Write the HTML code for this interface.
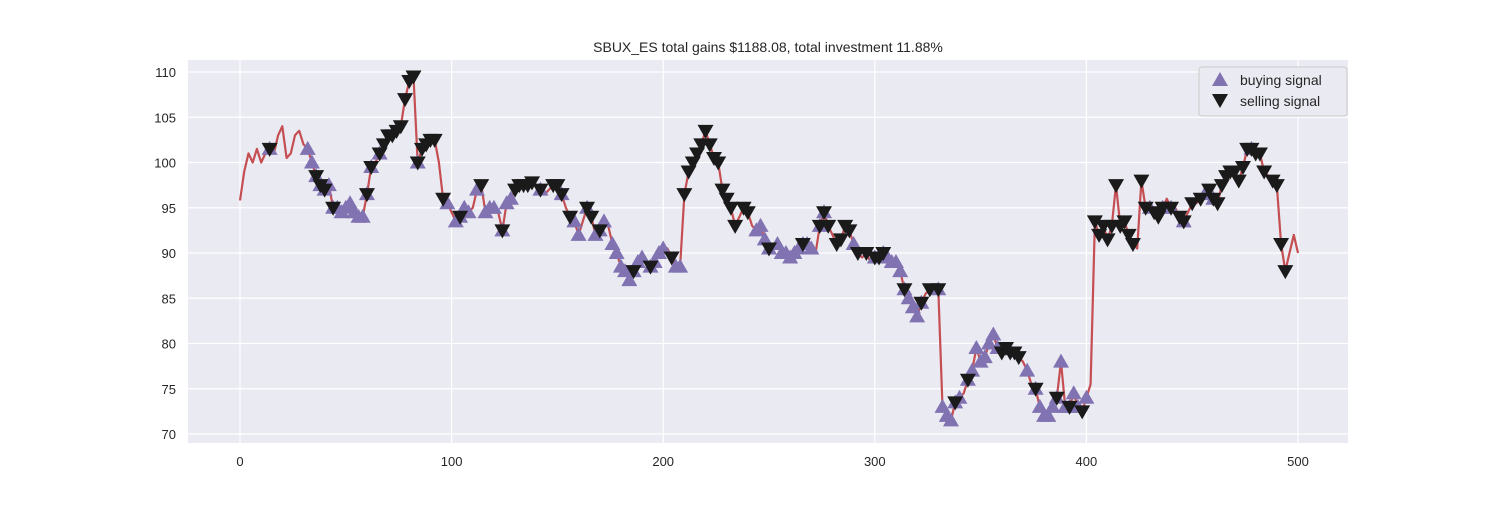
<!DOCTYPE html>
<html><head><meta charset="utf-8">
<style>
body{margin:0;background:#fff;font-family:"Liberation Sans",sans-serif;}
svg text{font-family:"Liberation Sans",sans-serif;fill:#262626;}
</style></head>
<body>
<svg id="chart" width="1500" height="500" viewBox="0 0 1500 500" xmlns="http://www.w3.org/2000/svg">
<rect x="188" y="60" width="1160" height="383" fill="#eaeaf2"/>
<g id="grid"></g>
<g id="series"></g>
<g id="axes"></g>
<text x="768" y="52" text-anchor="middle" font-size="14">SBUX_ES total gains $1188.08, total investment 11.88%</text>
<g>
<rect x="1199" y="67" width="148" height="49" rx="3" fill="#eaeaf2" stroke="#cccccc" stroke-width="1"/>
<g>
<path d="M1220,72 L1228,86 L1212,86 Z" fill="#8172b2"/>
<text x="1240" y="85" font-size="14">buying signal</text></g>
<g>
<path d="M1212,94 L1228,94 L1220,108 Z" fill="#1a1a1a"/>
<text x="1240" y="106" font-size="14">selling signal</text></g>
</g>
</svg>
<script>
const step = 2;
const prices = [95.8,99,101,100,101.5,100,101,101.5,101,103,104,100.5,101,103,103.5,102,101.5,100,98.5,97.5,97,97.5,95,95,94.5,95,95.5,94.5,94,94,96.5,99.5,100,101,102,103,103,103.5,104,107,109,109.5,100,101.5,102,102.5,102.5,100,96,95.5,94.5,93.5,94,95,94.5,95,97,97.5,94.5,95,95,94.5,92.5,95.5,96,97,97.5,97.5,97.5,97.8,97.5,97,96.5,97,97.5,97.5,96.5,95,94,93.5,92,93.5,95,94,92,92.5,93.5,93,91,90,88.5,88,87,88,89,89.5,89,88.5,89,90,90.5,90.5,89.5,88.5,88.5,96.5,99,100,101,102,103.5,102,100.5,100,97,96,95,93,94,95,94.5,93,92.5,93,91.5,90.5,90.5,91,90,90,89.5,90,90.5,91,91,90.5,90,93,94.5,93,92,91,91.5,93,92.5,91,90,89.5,90,89,89.5,89.5,90,89.5,89,89,88,86,85,84,83,84.5,85.5,86,86.5,86,73,72,71.5,73.5,74,74.5,76,77,79.5,78,78.5,80,81,79.5,79,79.5,79,79,78.5,78,77,75.5,75,73,72,72,73,74,78,73,73,74.5,73,72.5,74,75.5,93.5,92,93,91.5,93,97.5,93,93.5,92,91,90.5,98,95,95,94.5,94,95,96,95,95,94,93.5,94.5,95.5,95.5,96,96.5,97,96,95.5,97.5,98.5,99,99,98,99.5,101.5,101.5,101,101,99,98.5,98,97.5,91,88,90,92,90];
const sellIdx = [14,36,38,40,44,60,62,66,68,70,72,74,76,78,80,82,84,86,88,90,92,96,104,114,124,130,132,134,136,138,142,148,150,152,156,164,166,170,186,194,204,210,212,214,216,218,220,222,224,226,228,230,232,234,238,240,250,266,274,276,278,282,284,286,288,292,296,300,302,304,314,322,326,330,338,344,360,362,364,366,368,376,386,392,398,404,406,408,410,412,414,416,418,420,422,426,428,432,434,436,440,444,446,450,454,458,460,462,464,466,468,470,472,474,476,478,480,482,484,488,490,492,494];
const buyIdx = [14,32,34,36,38,40,42,44,46,48,50,52,54,56,58,60,62,66,84,98,102,104,106,108,112,116,118,120,124,126,128,142,152,158,160,164,168,170,172,176,178,180,182,184,186,188,190,194,196,198,200,206,208,244,246,248,250,254,256,258,260,262,264,266,268,270,274,276,290,300,304,306,308,310,312,314,316,318,320,322,330,332,334,336,338,340,344,346,348,350,352,354,356,358,372,376,378,380,382,384,386,388,390,392,394,396,400,430,436,440,446,456,460,478];
const xTicks = [0,100,200,300,400,500];
const yTicks = [70,75,80,85,90,95,100,105,110];

const X = v => 240 + (v/500)*(1298-240);
const Y = v => 72 + (110-v)*(434-72)/40;
const priceAt = i => prices[Math.round(i/step)];
const NS = "http://www.w3.org/2000/svg";
const grid = document.getElementById('grid');
const axes = document.getElementById('axes');
const series = document.getElementById('series');
function mk(tag, attrs, parent){const e=document.createElementNS(NS,tag);for(const k in attrs)e.setAttribute(k,attrs[k]);parent.appendChild(e);return e;}

xTicks.forEach(t=>{
  const l = mk('line',{x1:X(t),x2:X(t),y1:60,y2:443,stroke:'#fff','stroke-width':1.2},grid);
  
  
  const tx = mk('text',{x:X(t),y:466,'text-anchor':'middle','font-size':13},axes);
  tx.textContent = t;
  
  
});
yTicks.forEach(t=>{
  const l = mk('line',{x1:188,x2:1348,y1:Y(t),y2:Y(t),stroke:'#fff','stroke-width':1.2},grid);
  
  
  const tx = mk('text',{x:176,y:Y(t)+5,'text-anchor':'end','font-size':13},axes);
  tx.textContent = t;
  
  
});

const pts = prices.map((v,i)=>X(i*step).toFixed(1)+','+Y(v).toFixed(1)).join(' ');
const line = mk('polyline',{points:pts,fill:'none',stroke:'#c44e52','stroke-width':2.2,'stroke-linejoin':'round'},series);



buyIdx.forEach(i=>{
  const x=X(i), y=Y(priceAt(i));
  const p = mk('path',{d:`M${x},${y-8} L${x+8},${y+6} L${x-8},${y+6} Z`,fill:'#8172b2'},series);
  
  
});
sellIdx.forEach(i=>{
  const x=X(i), y=Y(priceAt(i));
  const p = mk('path',{d:`M${x-8},${y-6} L${x+8},${y-6} L${x},${y+8} Z`,fill:'#1a1a1a'},series);
  
  
});
</script>
</body></html>
